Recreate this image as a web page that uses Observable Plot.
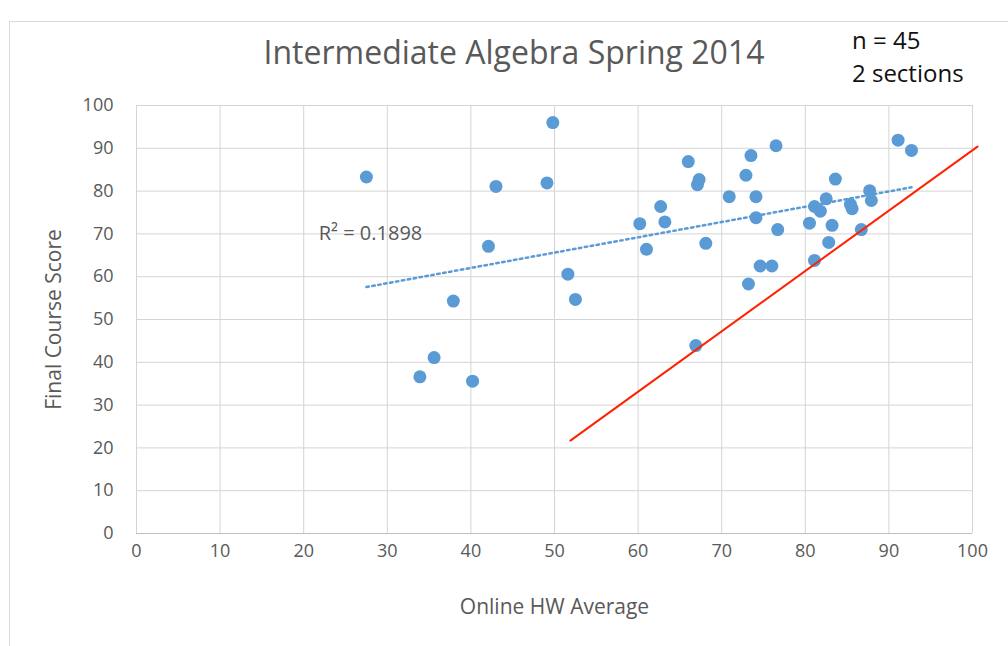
<!DOCTYPE html>
<html>
<head>
<meta charset="utf-8">
<script src="https://cdn.jsdelivr.net/npm/d3@7"></script>
<script src="https://cdn.jsdelivr.net/npm/@observablehq/plot@0.6"></script>
<style>
  body { margin: 0; background: #fff; }
  #wrap { position: relative; width: 1008px; height: 646px; overflow: hidden; font-family: "Open Sans", "Lato", sans-serif; }
  #frame { position: absolute; left: 9px; top: 21px; width: 1010px; height: 640px; border: 1px solid #d9d9d9; box-sizing: border-box; }
  #title { position: absolute; left: 0; width: 1028px; top: 32px; line-height: 40px; text-align: center; font-size: 32px; color: #595959; }
  #note { position: absolute; left: 852px; top: 23px; font-size: 24px; color: #111; line-height: 33px; }
  #chart { position: absolute; left: 0; top: 0; }
</style>
</head>
<body>
<div id="wrap">
  <div id="frame"></div>
  <div id="chart"></div>
  <div id="title">Intermediate Algebra Spring 2014</div>
  <div id="note">n = 45<br>2 sections</div>
</div>
<script>
// Online HW average (x) and final course score (y), 45 students
const hw = [27.5, 49.8, 43.0, 49.1, 42.1, 51.6, 52.5, 37.9, 35.6, 33.9, 40.2,
  66.0, 73.5, 76.5, 91.1, 92.7, 67.3, 67.1, 72.9, 83.6, 70.9, 74.1, 87.7, 87.9,
  62.7, 60.2, 63.2, 61.0, 68.1, 74.1, 76.7, 81.1, 81.8, 82.5, 85.4, 85.6,
  80.5, 83.2, 82.8, 86.7, 81.1, 74.6, 76.0, 73.2, 66.9];
const score = [83.3, 96.0, 81.1, 81.9, 67.1, 60.6, 54.7, 54.3, 41.1, 36.6, 35.6,
  86.9, 88.3, 90.6, 91.9, 89.5, 82.7, 81.5, 83.7, 82.8, 78.7, 78.7, 80.1, 77.8,
  76.4, 72.4, 72.8, 66.4, 67.8, 73.8, 71.0, 76.4, 75.3, 78.2, 76.9, 75.9,
  72.5, 72.0, 68.0, 71.0, 63.8, 62.5, 62.5, 58.3, 43.9];

const xTicks = [0, 10, 20, 30, 40, 50, 60, 70, 80, 90, 100];
const yTicks = [0, 10, 20, 30, 40, 50, 60, 70, 80, 90, 100];

// Hand-drawn red reference line (endpoints in data units)
const redX = [51.9, 100.6];
const redY = [21.7, 90.4];

// R² annotation
const r2Label = ["R² = 0.1898"];
const r2X = [21.8];
const r2Y = [70.1];

const pts = hw.map((x, i) => ({x, y: score[i]}));
const red = redX.map((x, i) => ({x, y: redY[i]}));
const r2 = r2Label.map((t, i) => ({t, x: r2X[i], y: r2Y[i]}));

const chart = Plot.plot({
  width: 1008,
  height: 646,
  marginLeft: 136,
  marginRight: 36,
  marginTop: 105,
  marginBottom: 113,
  style: { fontFamily: '"Open Sans", "Lato", sans-serif', fontSize: "18px", color: "#595959", background: "transparent" },
  x: { domain: [0, 100] },
  y: { domain: [0, 100] },
  marks: [
    Plot.gridX(xTicks, { stroke: "#d4d4d4", strokeOpacity: 1 }),
    Plot.gridY(yTicks, { stroke: "#d4d4d4", strokeOpacity: 1 }),
    Plot.ruleY([0], { stroke: "#bfbfbf", strokeWidth: 1.2 }),
    Plot.axisX(xTicks, { tickSize: 0, tickPadding: 11, fontSize: 18, label: null }),
    Plot.axisX({ ticks: [], tickSize: 0, label: "Online HW Average", labelAnchor: "center", labelArrow: "none", labelOffset: 80, fontSize: 21 }),
    Plot.axisY(yTicks, { tickSize: 0, tickPadding: 23, fontSize: 18, label: null }),
    Plot.axisY({ ticks: [], tickSize: 0, label: "Final Course Score", labelAnchor: "center", labelArrow: "none", labelOffset: 90, fontSize: 21 }),
    Plot.linearRegressionY(pts, { x: "x", y: "y", ci: 0, stroke: "#5b9bd5", strokeWidth: 2.5, strokeDasharray: "2.5 3.5" }),
    Plot.dot(pts, { x: "x", y: "y", r: 6.5, fill: "#5b9bd5", stroke: "none" }),
    Plot.line(red, { x: "x", y: "y", stroke: "#ff2200", strokeWidth: 2 }),
    Plot.text(r2, { x: "x", y: "y", text: "t", textAnchor: "start", fontSize: 20, fill: "#595959" })
  ]
});
document.getElementById("chart").appendChild(chart);
</script>
</body>
</html>
